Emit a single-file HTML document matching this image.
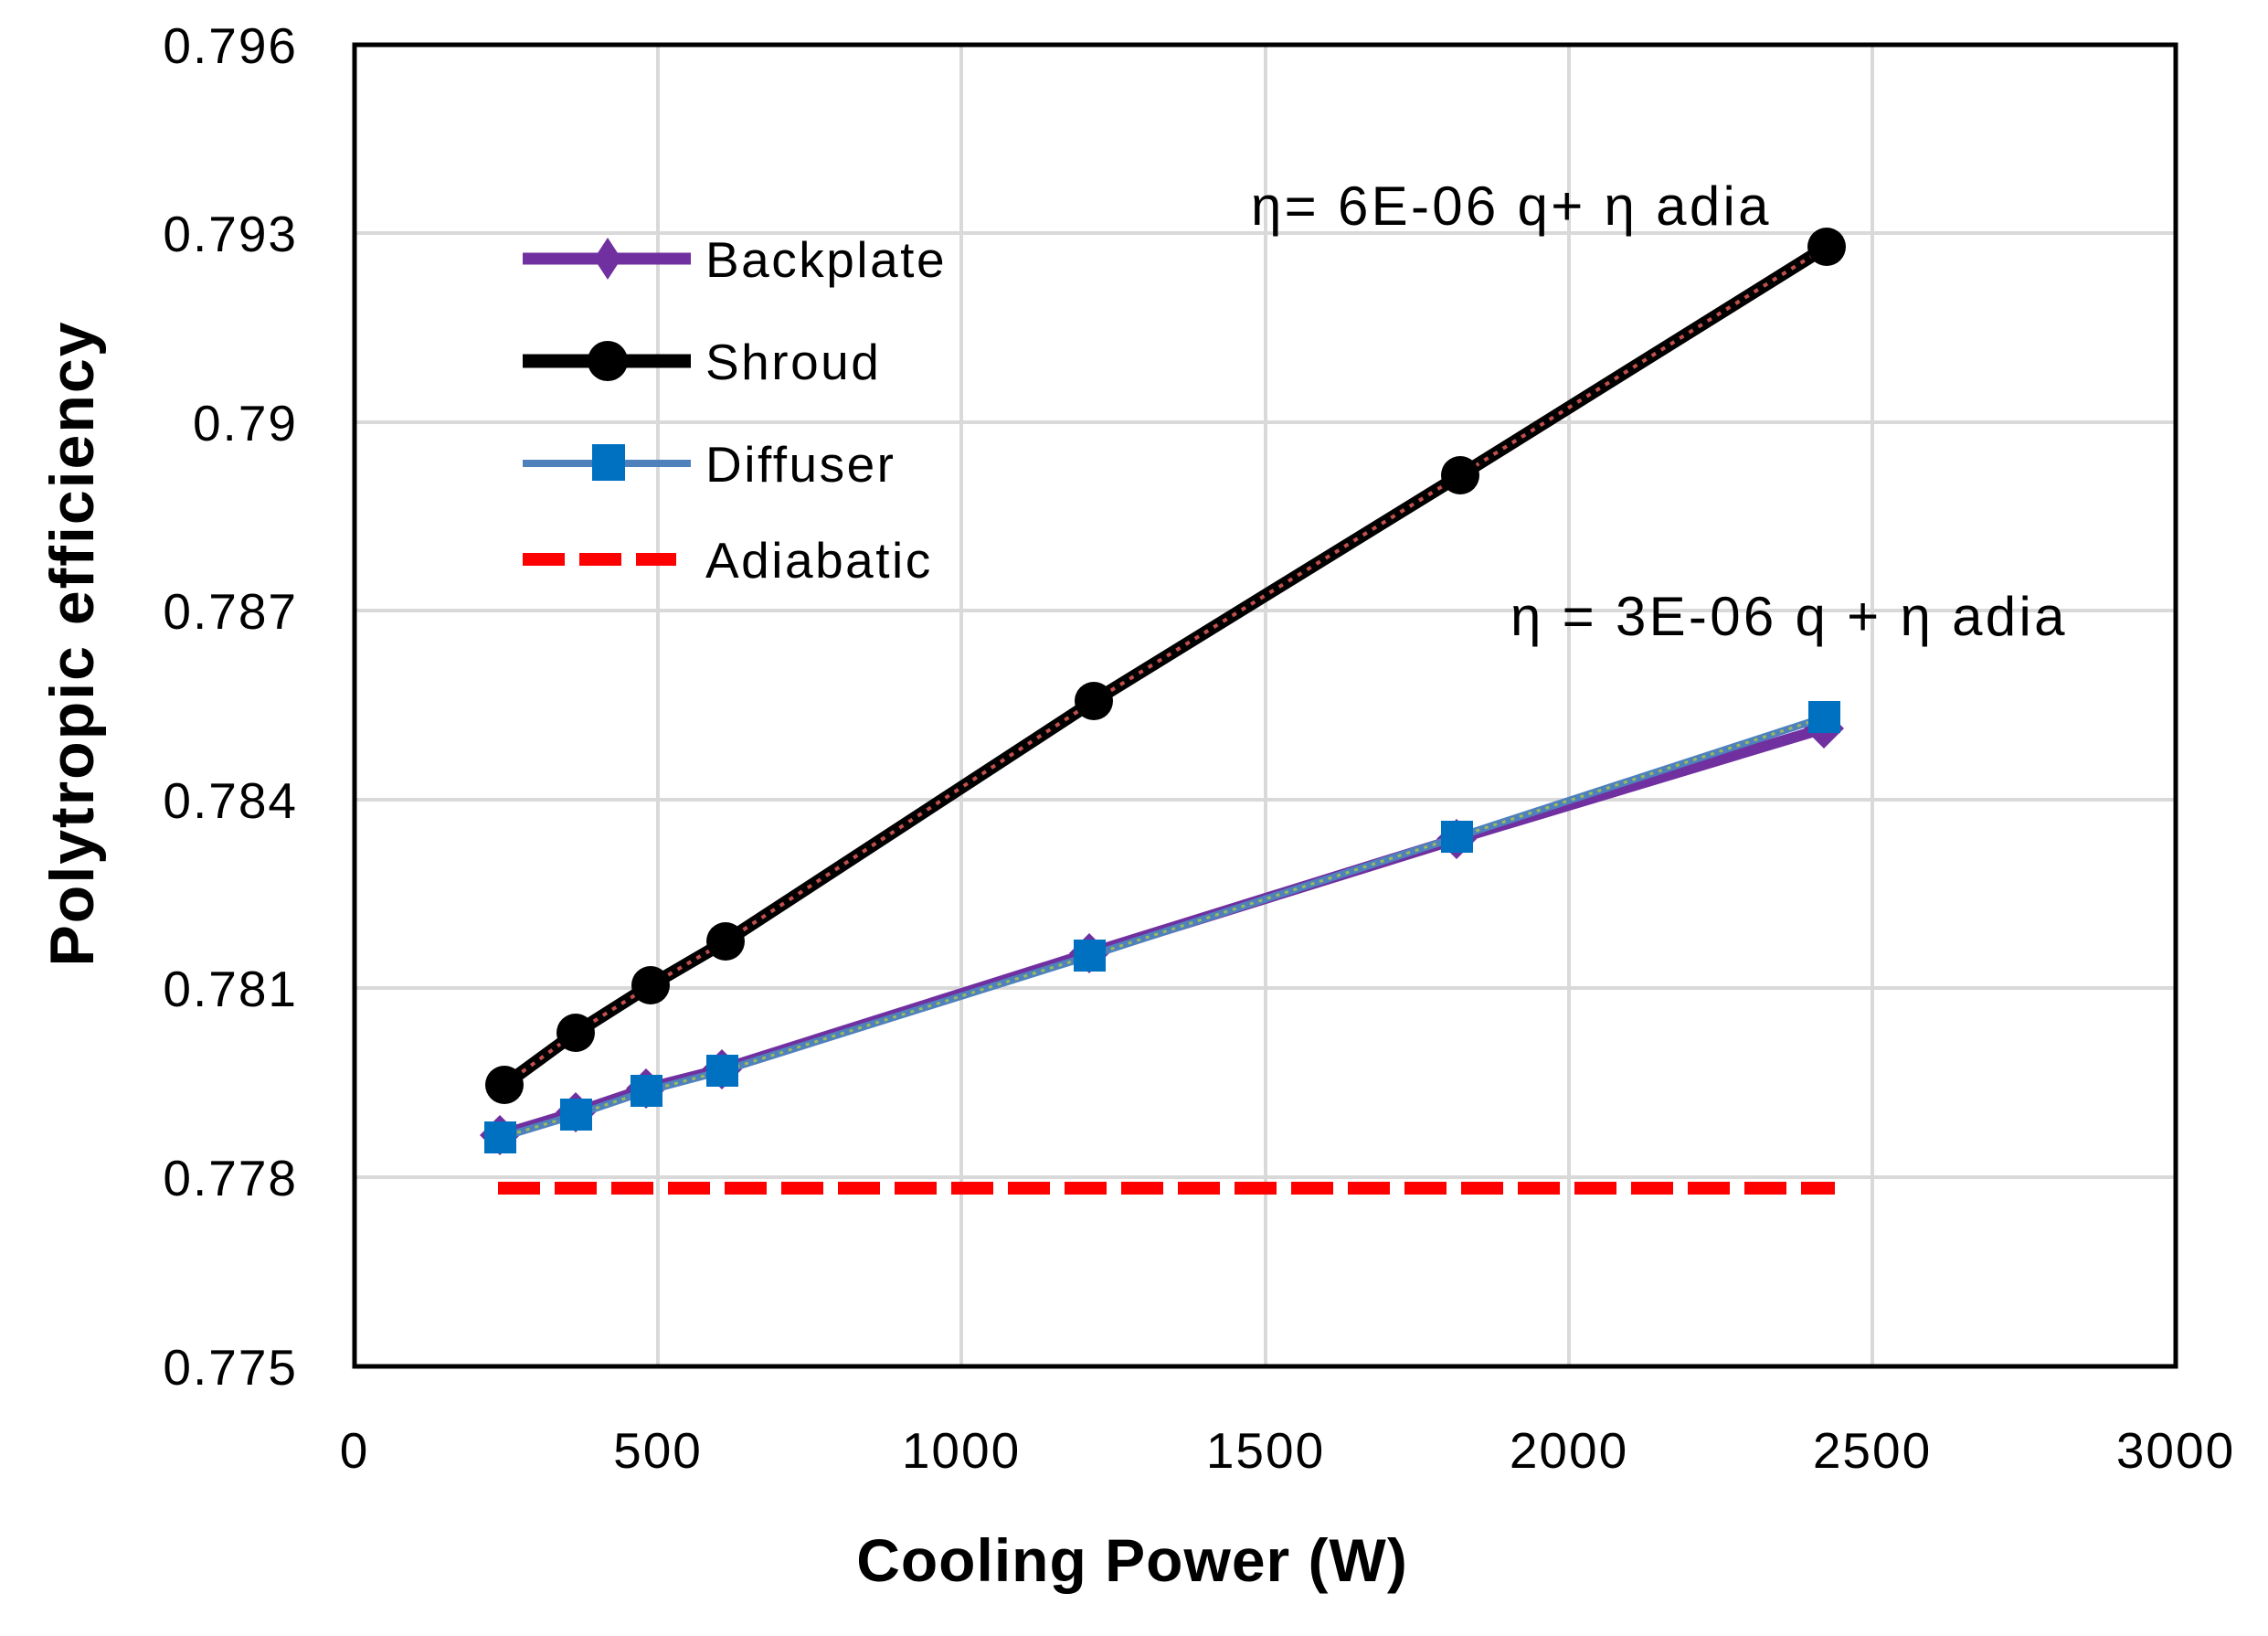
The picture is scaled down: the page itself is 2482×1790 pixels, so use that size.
<!DOCTYPE html>
<html><head><meta charset="utf-8"><style>
html,body{margin:0;padding:0;background:#fff;}
svg{display:block;}
text{font-family:"Liberation Sans",sans-serif;fill:#000;}
</style></head><body>
<svg width="2482" height="1790" viewBox="0 0 2482 1790" xmlns="http://www.w3.org/2000/svg">
<rect width="2482" height="1790" fill="#fff"/>
<g stroke="#d9d9d9" stroke-width="4">
<line x1="388" y1="255" x2="2381" y2="255"/>
<line x1="388" y1="462" x2="2381" y2="462"/>
<line x1="388" y1="668" x2="2381" y2="668"/>
<line x1="388" y1="875" x2="2381" y2="875"/>
<line x1="388" y1="1081" x2="2381" y2="1081"/>
<line x1="388" y1="1288" x2="2381" y2="1288"/>
<line x1="720" y1="49" x2="720" y2="1495"/>
<line x1="1052" y1="49" x2="1052" y2="1495"/>
<line x1="1385" y1="49" x2="1385" y2="1495"/>
<line x1="1717" y1="49" x2="1717" y2="1495"/>
<line x1="2049" y1="49" x2="2049" y2="1495"/>
</g>
<rect x="388" y="49" width="1993" height="1446" fill="none" stroke="#000" stroke-width="5"/>
<g font-size="55" text-anchor="end" letter-spacing="2">
<text x="326" y="69">0.796</text>
<text x="326" y="275">0.793</text>
<text x="326" y="482">0.79</text>
<text x="326" y="688">0.787</text>
<text x="326" y="895">0.784</text>
<text x="326" y="1101">0.781</text>
<text x="326" y="1308">0.778</text>
<text x="326" y="1515">0.775</text>
</g>
<g font-size="55" text-anchor="middle" letter-spacing="2">
<text x="388" y="1606">0</text>
<text x="720" y="1606">500</text>
<text x="1052" y="1606">1000</text>
<text x="1385" y="1606">1500</text>
<text x="1717" y="1606">2000</text>
<text x="2049" y="1606">2500</text>
<text x="2381" y="1606">3000</text>
</g>
<text x="1239" y="1730" font-size="66" font-weight="bold" text-anchor="middle" letter-spacing="1">Cooling Power (W)</text>
<text transform="translate(102,704) rotate(-90)" font-size="68" font-weight="bold" text-anchor="middle" letter-spacing="2">Polytropic efficiency</text>
<line x1="545" y1="1300" x2="2008" y2="1300" stroke="#ff0000" stroke-width="14" stroke-dasharray="46 16"/>
<polyline fill="none" stroke="#7030a0" stroke-width="12" points="547,1242 630,1217 707,1191 790,1170 1192,1043 1594,918 1996,797"/>
<g fill="#7030a0">
<polygon points="547,1220 569,1242 547,1264 525,1242"/>
<polygon points="630,1195 652,1217 630,1239 608,1217"/>
<polygon points="707,1169 729,1191 707,1213 685,1191"/>
<polygon points="790,1148 812,1170 790,1192 768,1170"/>
<polygon points="1192,1021 1214,1043 1192,1065 1170,1043"/>
<polygon points="1594,896 1616,918 1594,940 1572,918"/>
<polygon points="1996,775 2018,797 1996,819 1974,797"/>
</g>
<polyline fill="none" stroke="#4f81bd" stroke-width="8" points="547,1245 630,1220 707,1194 790,1172 1192,1046 1594,916 1996,785"/>
<polyline fill="none" stroke="#9bbb59" stroke-width="3" stroke-dasharray="4 6" points="547,1245 630,1220 707,1194 790,1172 1192,1046 1594,916 1996,785"/>
<g fill="#0070c0">
<rect x="530" y="1227" width="35" height="35"/>
<rect x="613" y="1202" width="35" height="35"/>
<rect x="690" y="1176" width="35" height="35"/>
<rect x="773" y="1154" width="35" height="35"/>
<rect x="1175" y="1028" width="35" height="35"/>
<rect x="1577" y="898" width="35" height="35"/>
<rect x="1979" y="767" width="35" height="35"/>
</g>
<polyline fill="none" stroke="#000" stroke-width="14" points="552,1187 630,1130 712,1078 794,1030 1197,767 1598,520 1999,270"/>
<polyline fill="none" stroke="#c0504d" stroke-width="4" stroke-dasharray="5 7" points="552,1187 630,1130 712,1078 794,1030 1197,767 1598,520 1999,270"/>
<g fill="#000">
<circle cx="552" cy="1187" r="21"/>
<circle cx="630" cy="1130" r="21"/>
<circle cx="712" cy="1078" r="21"/>
<circle cx="794" cy="1030" r="21"/>
<circle cx="1197" cy="767" r="21"/>
<circle cx="1598" cy="520" r="21"/>
<circle cx="1999" cy="270" r="21"/>
</g>
<line x1="572" y1="283" x2="756" y2="283" stroke="#7030a0" stroke-width="13"/>
<polygon points="665,260 680,283 665,306 650,283" fill="#7030a0"/>
<line x1="572" y1="395" x2="756" y2="395" stroke="#000" stroke-width="15"/>
<circle cx="665" cy="395" r="22" fill="#000"/>
<line x1="572" y1="507" x2="756" y2="507" stroke="#4f81bd" stroke-width="8"/>
<rect x="648" y="486" width="36" height="40" fill="#0070c0"/>
<line x1="572" y1="612" x2="740" y2="612" stroke="#ff0000" stroke-width="14" stroke-dasharray="46 16"/>
<g font-size="55" letter-spacing="2.5">
<text x="772" y="303">Backplate</text>
<text x="772" y="415">Shroud</text>
<text x="772" y="527">Diffuser</text>
<text x="772" y="632">Adiabatic</text>
</g>
<g font-size="60" letter-spacing="3.3">
<text x="1369" y="246">η= 6E-06  q+ η adia</text>
<text x="1653" y="695">η = 3E-06 q + η adia</text>
</g>
</svg>
</body></html>
